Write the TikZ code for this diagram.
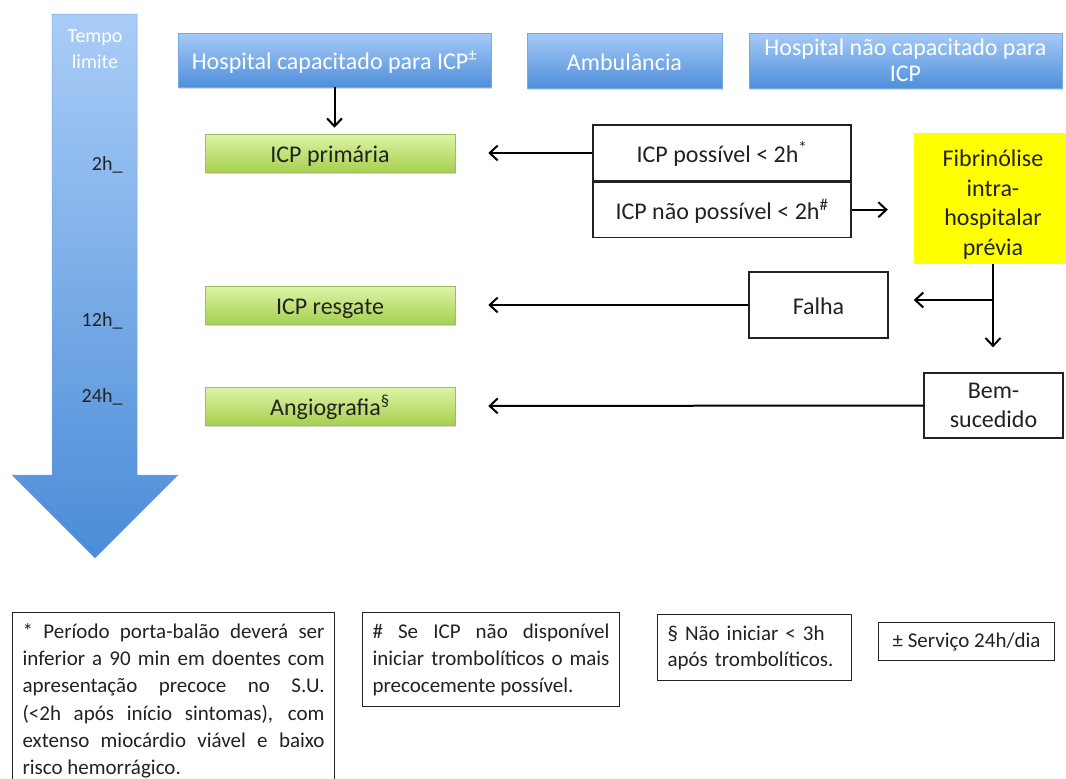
\documentclass[tikz,border=0pt]{standalone}
\usepackage{fontspec}
\setmainfont{Carlito}
\usetikzlibrary{arrows.meta,shadows}

\definecolor{setatop}{HTML}{AACDF7}
\definecolor{setabot}{HTML}{4A8CD8}
\definecolor{setaline}{HTML}{7BA7DD}
\definecolor{hdrtop}{HTML}{A6CAF7}
\definecolor{hdrbot}{HTML}{4F8FDB}
\definecolor{verdetop}{HTML}{DDF4A6}
\definecolor{verdebot}{HTML}{A7D04F}
\definecolor{verdeline}{HTML}{9CBE5C}
\definecolor{amarelo}{HTML}{FFFF00}
\definecolor{texto}{HTML}{222222}

\begin{document}
\begin{tikzpicture}[x=1pt, y=-1pt,
    hdr/.style={rectangle, draw=setaline, line width=0.5pt, top color=hdrtop, bottom color=hdrbot,
        text=white, align=center, font=\fontsize{24}{26}\selectfont,
        drop shadow={shadow xshift=1pt, shadow yshift=-2pt, opacity=0.3}},
    linha/.style={text height=19.5pt, text depth=0pt},
    acao/.style={rectangle, draw=verdeline, line width=0.5pt, top color=verdetop, bottom color=verdebot,
        text=texto, minimum width=250pt, minimum height=38pt, font=\fontsize{24}{26}\selectfont, linha,
        drop shadow={shadow xshift=1pt, shadow yshift=-2pt, opacity=0.3}},
    caixa/.style={rectangle, draw=texto, line width=1.2pt, fill=white, text=texto, align=center,
        font=\fontsize{24}{29}\selectfont},
    nota/.style={rectangle, draw=texto, line width=1.1pt, fill=white, text=texto, anchor=north west,
        inner xsep=10pt, inner ysep=11pt, font=\fontsize{21}{27.2}\selectfont},
    tempo/.style={text=texto, font=\fontsize{20}{26}\selectfont},
    conn/.style={line width=2pt, -{Straight Barb[length=8pt, width=15pt]}}]

    \useasboundingbox (0,0) rectangle (1066,779);

%seta do tempo

    \shade[top color=setatop, bottom color=setabot, draw=setaline, line width=0.5pt]
    (52,14) -- (137,14) -- (137,475) -- (178,475) -- (95,558) -- (12,475) -- (52,475) -- cycle;
    \node[tempo, text=white, align=center] (limite) at (95,49) {Tempo\\limite};
    \node[tempo, anchor=east] (t2) at (126,165) {2h\_};
    \node[tempo, anchor=east] (t12) at (126,321) {12h\_};
    \node[tempo, anchor=east] (t24) at (126,397) {24h\_};

%cabecalhos

    \node[hdr, linha, minimum width=313pt, minimum height=54pt] (hcap) at (334.5,60) {Hospital capacitado para ICP\textsuperscript{±}};
    \node[hdr, linha, minimum width=195pt, minimum height=55pt] (amb) at (624.5,60.5) {Ambulância};
    \node[hdr, minimum width=313pt, minimum height=55pt] (hnc) at (905.5,60.5) {Hospital não capacitado para\\ICP};

%caixas verdes

    \node[acao] (prim) at (330,153) {ICP primária};
    \node[acao] (resg) at (330,305) {ICP resgate};
    \node[acao] (angio) at (330,406) {Angiografia\textsuperscript{§}};

%decisao

    \node[caixa, linha, minimum width=258pt, minimum height=56pt] (poss) at (722,153) {ICP possível < 2h\textsuperscript{*}};
    \node[caixa, linha, minimum width=258pt, minimum height=55pt, anchor=north] (nposs) at (poss.south) {ICP não possível < 2h\textsuperscript{\#}};
    \node[fill=amarelo, minimum width=158pt, minimum height=131pt] (fib) at (993,198.5) {};
    \node[text=texto, align=center, font=\fontsize{24}{29.5}\selectfont] (fibtxt) at ([yshift=-6pt]fib.center)
    {Fibrinólise\\intra-\\hospitalar\\prévia};
    \node[caixa, linha, minimum width=139pt, minimum height=66pt] (falha) at (818.5,305) {Falha};
    \node[caixa, minimum width=139pt, minimum height=65pt] (bem) at (993.5,405.5) {Bem-\\sucedido};
    \coordinate (ramo) at (993,300);

%setas

    \draw[conn, shorten >=6pt] (hcap.south) -- (hcap.south |- prim.north);
    \draw[conn, shorten >=33pt] (poss.west) -- (prim.east);
    \draw[conn, shorten >=26pt] (nposs.east) -- (nposs.east -| fib.west);
    \draw[conn, shorten >=25pt] (fib.south) -- (fib.south |- bem.north);
    \draw[conn] (ramo) -- (ramo -| fib.west);
    \draw[conn, shorten >=33pt] (falha.west) -- (resg.east);
    \draw[conn, shorten >=33pt] (bem.west) -- (angio.east);

%notas

    \node[nota, text width=302pt, align=justify] (nota1) at (12,612)
    {* Período porta-balão deverá ser\linebreak inferior a 90 min em doentes com\linebreak
     apresentação precoce no S.U.\linebreak (<2h após início sintomas), com\linebreak
     extenso miocárdio viável e baixo\linebreak risco hemorrágico.};
    \node[nota, text width=237pt, align=justify] (nota2) at (362,612)
    {\# Se ICP não disponível\linebreak iniciar trombolíticos o mais\linebreak precocemente possível.};
    \node[nota, text width=174pt, align=left, font=\fontsize{21}{26}\selectfont] (nota3) at (657,614)
    {§ Não iniciar < 3h\\após trombolíticos.};
    \node[nota, minimum width=176pt, minimum height=38pt, inner ysep=2pt] (nota4) at (878,622)
    {± Serviço 24h/dia};

  \end{tikzpicture}
\end{document}
